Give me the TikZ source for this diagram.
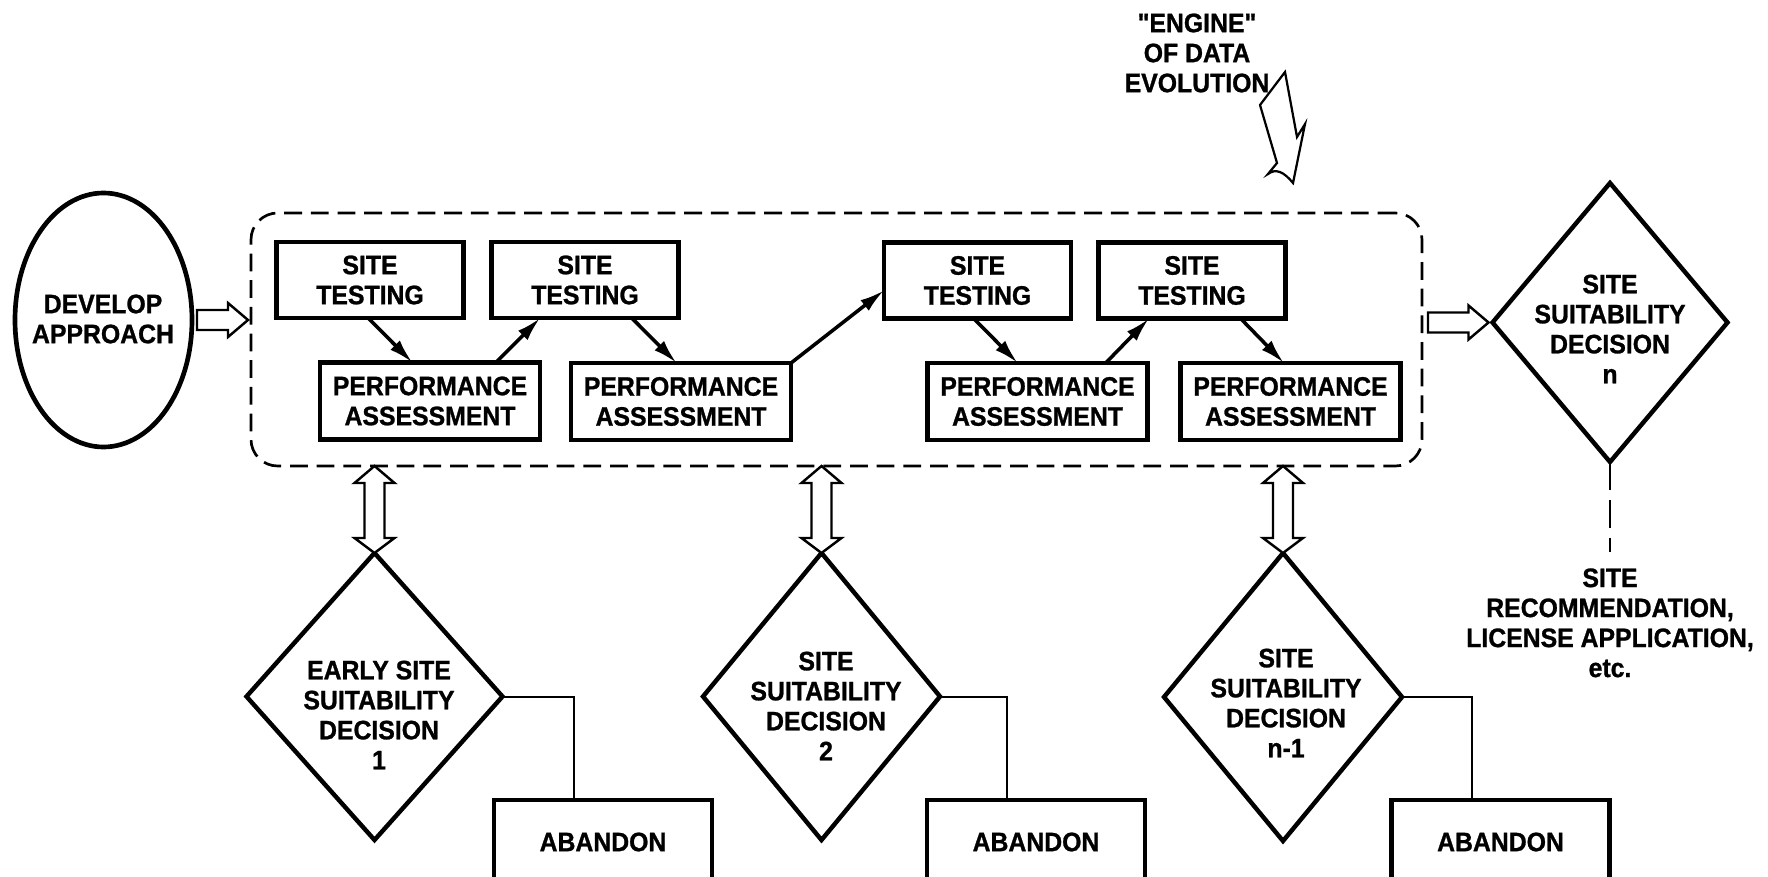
\documentclass[tikz,border=0pt]{standalone}
\usepackage{fontspec}
\setmainfont{Liberation Sans}[FakeStretch=0.93,Ligatures=TeXOff,BoldFeatures={FakeBold=1}]
\usetikzlibrary{shapes.geometric,calc,arrows.meta}
\newcommand\lblfont{\fontsize{12}{13.5}\selectfont\bfseries}
\newcommand\hollowH[2]{%
  \draw[hollow] ($(#1)+(0,-10)$) -- ($(#2)+(-20,-10)$) -- ($(#2)+(-20,-17)$) -- (#2)
    -- ($(#2)+(-20,17)$) -- ($(#2)+(-20,10)$) -- ($(#1)+(0,10)$) -- cycle;}
\newcommand\hollowV[2]{%
  \draw[hollow] (#1) -- ($(#1)+(20,17)$) -- ($(#1)+(10,17)$) -- ($(#2)+(10,-15)$)
    -- ($(#2)+(20,-15)$) -- (#2) -- ($(#2)+(-20,-15)$) -- ($(#2)+(-10,-15)$)
    -- ($(#1)+(-10,17)$) -- ($(#1)+(-20,17)$) -- cycle;}
\begin{document}
\begin{tikzpicture}[x=0.45pt,y=-0.45pt,
  lbl/.style={align=center,font=\lblfont,inner sep=0pt},
  box/.style={lbl,draw,line width=2.1pt,outer sep=0pt},
  stbox/.style={box,minimum width=84.15pt,minimum height=34.2pt},
  pabox/.style={box,minimum width=99pt,minimum height=34.65pt},
  abbox/.style={box,minimum width=98.1pt,minimum height=37.8pt},
  dec/.style={draw,diamond,line width=2pt,inner sep=0pt,outer sep=0pt},
  flow/.style={line width=1.6pt,-{Latex[length=11pt,width=6pt]}},
  link/.style={line width=0.9pt},
  hollow/.style={draw,line width=1.1pt,line join=miter,fill=white},
  engdash/.style={draw,dash pattern=on 8pt off 4pt,line width=1.2pt,rounded corners=12pt,inner sep=0pt,outer sep=0pt},
  bolt/.style={draw,line width=1pt,line join=miter}]
\useasboundingbox (0,0) rectangle (1768,877);
\clip (0,0) rectangle (1768,877);

% container
\node[engdash,minimum width=526.95pt,minimum height=113.85pt] (eng) at (836.5,339.5) {};

% develop approach
\node[draw,ellipse,line width=2.1pt,inner sep=0pt,outer sep=0pt,minimum width=79.65pt,minimum height=114.3pt] (dev) at (103.5,320) {};
\node[lbl] (devt) at (103,319) {DEVELOP\\APPROACH};

% site testing / performance assessment
\node[stbox] (st1) at (370,280) {SITE\\TESTING};
\node[stbox] (st2) at (585,280) {SITE\\TESTING};
\node[stbox] (st3) at (977.5,280.5) {SITE\\TESTING};
\node[stbox] (st4) at (1192,280.5) {SITE\\TESTING};
\node[pabox] (pa1) at (430,401) {PERFORMANCE\\ASSESSMENT};
\node[pabox] (pa2) at (681,401.5) {PERFORMANCE\\ASSESSMENT};
\node[pabox] (pa3) at (1037.5,401.5) {PERFORMANCE\\ASSESSMENT};
\node[pabox] (pa4) at (1290.5,401.5) {PERFORMANCE\\ASSESSMENT};

\draw[flow] ($(st1.south west)!0.49!(st1.south east)$) -- ($(pa1.north west)!0.42!(pa1.north east)$);
\draw[flow] ($(pa1.north west)!0.80!(pa1.north east)$) -- ($(st2.south west)!0.26!(st2.south east)$);
\draw[flow] ($(st2.south west)!0.75!(st2.south east)$) -- ($(pa2.north west)!0.48!(pa2.north east)$);
\draw[flow] (pa2.north east) -- ($(st3.north west)!0.63!(st3.south west)$);
\draw[flow] ($(st3.south west)!0.48!(st3.south east)$) -- ($(pa3.north west)!0.41!(pa3.north east)$);
\draw[flow] ($(pa3.north west)!0.81!(pa3.north east)$) -- ($(st4.south west)!0.27!(st4.south east)$);
\draw[flow] ($(st4.south west)!0.76!(st4.south east)$) -- ($(pa4.north west)!0.47!(pa4.north east)$);

% final decision
\node[dec,minimum width=105.75pt,minimum height=125.55pt] (dn) at (1610,322.5) {};
\node[lbl] (dnt) at (1610,329) {SITE\\SUITABILITY\\DECISION\\n};

% hollow arrows in/out of container
\coordinate (ha1s) at ($(dev.east)+(5,0)$);
\coordinate (ha1e) at ($(dev.east -| eng.west)+(-3,0)$);
\hollowH{ha1s}{ha1e}
\coordinate (ha2e) at ($(dn.west)+(-4,0)$);
\coordinate (ha2s) at ($(dn.west -| eng.east)+(6,0)$);
\hollowH{ha2s}{ha2e}

% recommendation
\node[lbl,anchor=north] (rec) at (1610,568) {SITE\\RECOMMENDATION,\\LICENSE APPLICATION,\\etc.};
\draw[line width=1.2pt,dash pattern=on 12.6pt off 4.5pt] (dn.south) -- ($(rec.north)+(0,-16)$);

% intermediate decisions
\node[dec,minimum width=115.2pt,minimum height=129.15pt] (d1) at (374.5,696.5) {};
\node[dec,minimum width=106.65pt,minimum height=129.15pt] (d2) at (821.5,696.5) {};
\node[dec,minimum width=107.1pt,minimum height=129.6pt] (d3) at (1283,697) {};
\node[lbl] (d1t) at (379,715) {EARLY SITE\\SUITABILITY\\DECISION\\1};
\node[lbl] (d2t) at (826,706) {SITE\\SUITABILITY\\DECISION\\2};
\node[lbl] (d3t) at (1286,703) {SITE\\SUITABILITY\\DECISION\\n-1};

\hollowV{d1.north |- eng.south}{d1.north}
\hollowV{d2.north |- eng.south}{d2.north}
\hollowV{d3.north |- eng.south}{d3.north}

% abandon
\node[abbox] (ab1) at (603,842) {ABANDON};
\node[abbox] (ab2) at (1036,842) {ABANDON};
\node[abbox] (ab3) at (1500.5,842) {ABANDON};
\draw[link] (d1.east) -| ($(ab1.north west)!0.367!(ab1.north east)$);
\draw[link] (d2.east) -| ($(ab2.north west)!0.367!(ab2.north east)$);
\draw[link] (d3.east) -| ($(ab3.north west)!0.367!(ab3.north east)$);

% engine of data evolution
\node[lbl] (engt) at (1197,53) {"ENGINE"\\OF DATA\\EVOLUTION};
\draw[bolt] (1285,72) -- (1297,137) -- (1305,124) -- (1293,183)
  .. controls (1284,172) and (1276,168) .. (1268,174) -- (1277,163) -- (1260,105) -- cycle;
\end{tikzpicture}
\end{document}
